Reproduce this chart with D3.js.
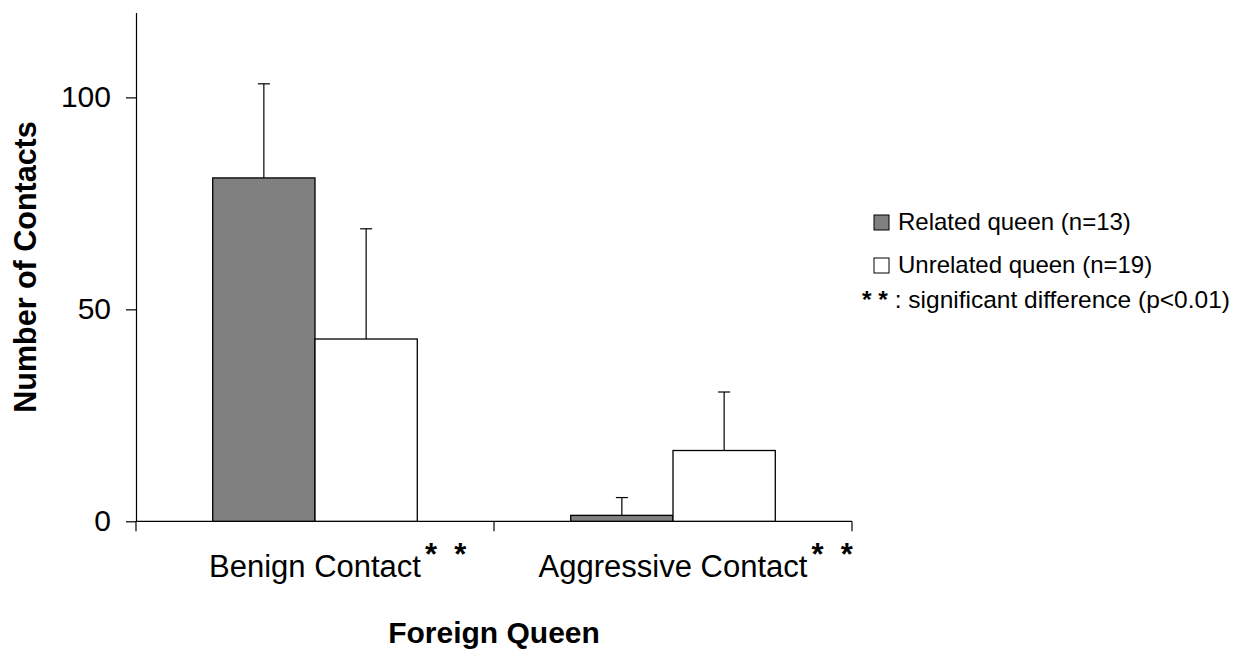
<!DOCTYPE html>
<html>
<head>
<meta charset="utf-8">
<script src="https://cdn.jsdelivr.net/npm/d3@7"></script>
<style>
  html, body { margin: 0; padding: 0; background: #fff; }
  svg { display: block; font-family: "Liberation Sans", Arial, sans-serif; }
</style>
</head>
<body>
<svg id="chart" width="1242" height="651"></svg>
<script>
// Mean number of contacts with a foreign queen, by relatedness
const categories = ["Benign Contact", "Aggressive Contact"];
const seriesNames = ["Related queen (n=13)", "Unrelated queen (n=19)"];
const relatedMeans = [81.0, 1.4];
const relatedErrors = [22.2, 4.2];
const unrelatedMeans = [43.0, 16.7];
const unrelatedErrors = [26.0, 13.8];
const yTicks = [0, 50, 100];
const significanceMark = "* *";
const significanceNote = " : significant difference (p<0.01)";

const seriesFill = ["#808080", "#ffffff"];
const rows = categories.map((c, i) => ({
  category: c,
  values: [
    { series: seriesNames[0], mean: relatedMeans[i], err: relatedErrors[i] },
    { series: seriesNames[1], mean: unrelatedMeans[i], err: unrelatedErrors[i] }
  ]
}));

const svg = d3.select("#chart");
const plot = { left: 136, right: 852, top: 12.6, bottom: 521.3 };

const y = d3.scaleLinear().domain([0, 120]).range([plot.bottom, plot.top]);
const x0 = d3.scaleBand().domain(categories).range([plot.left, plot.right]).padding(0);
const x1 = d3.scaleBand().domain(seriesNames).range([0, x0.bandwidth()])
  .paddingInner(0).paddingOuter(0.75);

// Y axis
const yAxis = svg.append("g")
  .attr("transform", `translate(${plot.left},0)`)
  .call(d3.axisLeft(y).tickValues(yTicks).tickSize(10).tickPadding(15).tickSizeOuter(0));
yAxis.select(".domain").attr("stroke", "#000").attr("stroke-width", 1.2);
yAxis.selectAll(".tick line").attr("stroke", "#000").attr("stroke-width", 1.2);
yAxis.selectAll(".tick text").attr("font-size", 30).attr("fill", "#000")
  .attr("font-family", "Liberation Sans, Arial, sans-serif");

// X axis with ticks between categories
const xAxis = svg.append("g")
  .attr("transform", `translate(0,${plot.bottom})`);
xAxis.append("line")
  .attr("x1", plot.left).attr("x2", plot.right)
  .attr("stroke", "#000").attr("stroke-width", 1.2);
const boundaries = [plot.left].concat(categories.map(c => x0(c) + x0.bandwidth()));
xAxis.selectAll("line.sep").data(boundaries).join("line")
  .attr("class", "sep")
  .attr("x1", d => d).attr("x2", d => d)
  .attr("y1", 0).attr("y2", 10)
  .attr("stroke", "#000").attr("stroke-width", 1.2);

// Bars
const groups = svg.append("g").selectAll("g").data(rows).join("g")
  .attr("transform", d => `translate(${x0(d.category)},0)`);

groups.selectAll("rect").data(d => d.values).join("rect")
  .attr("x", d => x1(d.series))
  .attr("y", d => y(d.mean))
  .attr("width", x1.bandwidth())
  .attr("height", d => y(0) - y(d.mean))
  .attr("fill", (d, i) => seriesFill[i])
  .attr("stroke", "#000").attr("stroke-width", 1.3);

// Upper error bars
const err = groups.selectAll("g.err").data(d => d.values).join("g").attr("class", "err");
err.append("line")
  .attr("x1", d => x1(d.series) + x1.bandwidth() / 2)
  .attr("x2", d => x1(d.series) + x1.bandwidth() / 2)
  .attr("y1", d => y(d.mean))
  .attr("y2", d => y(d.mean + d.err))
  .attr("stroke", "#000").attr("stroke-width", 1.2);
err.append("line")
  .attr("x1", d => x1(d.series) + x1.bandwidth() / 2 - 6)
  .attr("x2", d => x1(d.series) + x1.bandwidth() / 2 + 6)
  .attr("y1", d => y(d.mean + d.err))
  .attr("y2", d => y(d.mean + d.err))
  .attr("stroke", "#000").attr("stroke-width", 1.2);

// Category labels with significance marks
const catLabels = svg.append("g").selectAll("g").data(categories).join("g");
catLabels.each(function (c) {
  const g = d3.select(this);
  const cx = x0(c) + x0.bandwidth() / 2;
  const t = g.append("text")
    .attr("x", cx).attr("y", 576.5)
    .attr("text-anchor", "middle")
    .attr("font-size", 31).attr("fill", "#000")
    .text(c);
  const w = t.node().getComputedTextLength();
  g.append("text")
    .attr("x", cx + w / 2 + 4).attr("y", 565)
    .attr("font-size", 31).attr("font-weight", "bold").attr("fill", "#000")
    .style("white-space", "pre")
    .text("*  *");
});

// Axis titles
svg.append("text")
  .attr("transform", `translate(36,${267}) rotate(-90)`)
  .attr("text-anchor", "middle")
  .attr("font-size", 30.5).attr("font-weight", "bold").attr("fill", "#000")
  .text("Number of Contacts");

svg.append("text")
  .attr("x", (plot.left + plot.right) / 2).attr("y", 643)
  .attr("text-anchor", "middle")
  .attr("font-size", 30).attr("font-weight", "bold").attr("fill", "#000")
  .text("Foreign Queen");

// Legend
const legend = svg.append("g").selectAll("g").data(seriesNames).join("g")
  .attr("transform", (d, i) => `translate(874,${215 + i * 43})`);
legend.append("rect")
  .attr("width", 15).attr("height", 15)
  .attr("fill", (d, i) => seriesFill[i])
  .attr("stroke", "#000").attr("stroke-width", 1);
legend.append("text")
  .attr("x", 24).attr("y", 15)
  .attr("font-size", 24).attr("fill", "#000")
  .text(d => d);

const note = svg.append("text")
  .attr("x", 862).attr("y", 308)
  .attr("font-size", 24.5).attr("fill", "#000")
  .style("white-space", "pre");
note.append("tspan").attr("font-weight", "bold").text(significanceMark);
note.append("tspan").text(significanceNote);
</script>
</body>
</html>
